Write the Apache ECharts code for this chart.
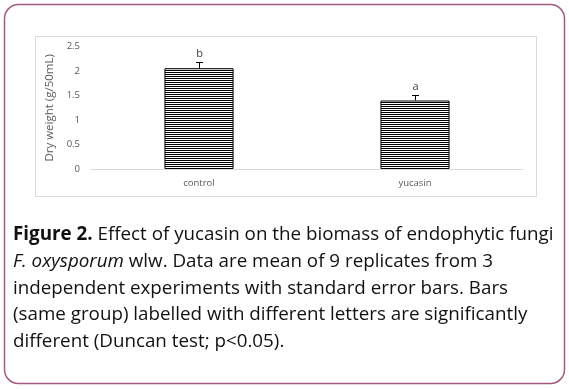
<!DOCTYPE html>
<html>
<head>
<meta charset="utf-8">
<script src="https://cdn.jsdelivr.net/npm/echarts@6/dist/echarts.min.js"></script>
<style>
html,body{margin:0;padding:0;background:#fff;}
#c{width:569px;height:389px;}
</style>
</head>
<body>
<div id="c"></div>
<script>
const categories = ['control', 'yucasin'];
const means = [2.06, 1.40];
const errors = [0.12, 0.11];
const letters = ['b', 'a'];
const yMin = 0, yMax = 2.5, yInterval = 0.5;
const yAxisName = 'Dry weight (g/50mL)';
const captionLines = [
  [['b', 'Figure 2.'], ['n', ' Effect of yucasin on the biomass of endophytic fungi']],
  [['i', 'F. oxysporum'], ['n', ' wlw. Data are mean of 9 replicates from 3']],
  [['n', 'independent experiments with standard error bars. Bars']],
  [['n', '(same group) labelled with different letters are significantly']],
  [['n', 'different (Duncan test; p<0.05).']]
];

// stripe pattern for bars
const pc = document.createElement('canvas');
pc.width = 4; pc.height = 2;
const pctx = pc.getContext('2d');
pctx.fillStyle = '#fff'; pctx.fillRect(0, 0, 4, 2);
pctx.fillStyle = '#000'; pctx.fillRect(0, 0, 4, 1);

const chart = echarts.init(document.getElementById('c'), null, {renderer: 'canvas'});

const capFont = 'Open Sans';
const capSize = 18.8;
const captionGraphics = captionLines.map((parts, i) => {
  const text = parts.map(p => '{' + p[0] + '|' + p[1].replace(/[{}|]/g, '') + '}').join('');
  return {
    type: 'text', silent: true,
    style: {
      text: text, x: 13, y: 235 + i * 26.7, verticalAlign: 'middle',
      rich: {
        b: {fontFamily: capFont, fontSize: capSize, fontWeight: 'bold', fill: '#111'},
        n: {fontFamily: capFont, fontSize: capSize, fill: '#111'},
        i: {fontFamily: capFont, fontSize: capSize, fontStyle: 'italic', fill: '#111'}
      }
    }
  };
});

const option = {
  animation: false,
  backgroundColor: '#fff',
  graphic: [
    {type: 'rect', shape: {x: 4.5, y: 4.5, width: 560, height: 379, r: 14}, style: {fill: 'none', stroke: '#a35a80', lineWidth: 1.5}, silent: true, z: -10},
    {type: 'rect', shape: {x: 35.5, y: 36.5, width: 501, height: 160}, style: {fill: 'none', stroke: '#d9d9d9', lineWidth: 1}, silent: true, z: -9},
    ...captionGraphics
  ],
  grid: {left: 91, right: 46, top: 46.7, bottom: 220, containLabel: false},
  xAxis: {
    type: 'category', data: categories,
    axisLine: {lineStyle: {color: '#d9d9d9'}},
    axisTick: {show: false},
    axisLabel: {color: '#595959', fontSize: 9.5, fontFamily: 'Open Sans', margin: 9}
  },
  yAxis: {
    type: 'value', min: yMin, max: yMax, interval: yInterval,
    name: yAxisName, nameLocation: 'middle', nameGap: 29, nameRotate: 90,
    nameTextStyle: {color: '#595959', fontSize: 11.5, fontFamily: 'Open Sans'},
    axisLine: {show: false}, axisTick: {show: false}, splitLine: {show: false},
    axisLabel: {color: '#595959', fontSize: 9.5, fontFamily: 'Open Sans', margin: 11}
  },
  series: [
    {
      type: 'bar', data: means, barWidth: '32%',
      itemStyle: {color: {image: pc, repeat: 'repeat'}, borderColor: '#000', borderWidth: 1},
      z: 2
    },
    {
      type: 'custom', z: 3,
      data: means.map((m, i) => [i, m, errors[i]]),
      encode: {x: 0, y: 1},
      renderItem: function (params, api) {
        const xi = api.value(0), m = api.value(1), e = api.value(2);
        const base = api.coord([xi, m]);
        const top = api.coord([xi, m + e]);
        const cx = Math.round(base[0]) + 0.5;
        const ty = Math.round(top[1]) + 0.5;
        return {
          type: 'group',
          children: [
            {type: 'line', shape: {x1: cx, y1: base[1], x2: cx, y2: ty}, style: {stroke: '#000', lineWidth: 1}},
            {type: 'line', shape: {x1: cx - 3.5, y1: ty, x2: cx + 3.5, y2: ty}, style: {stroke: '#000', lineWidth: 1}},
            {type: 'text', style: {text: letters[params.dataIndex], x: cx, y: ty - 3, align: 'center', verticalAlign: 'bottom', fill: '#404040', fontSize: 11, fontFamily: 'Open Sans'}}
          ]
        };
      }
    }
  ]
};
chart.setOption(option);
</script>
</body>
</html>
